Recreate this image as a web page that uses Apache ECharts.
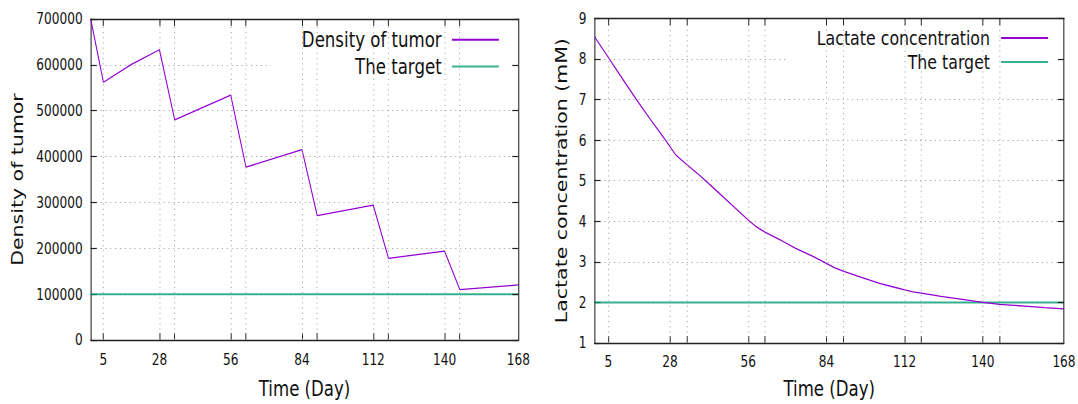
<!DOCTYPE html>
<html><head><meta charset="utf-8">
<script src="https://cdn.jsdelivr.net/npm/echarts@6/dist/echarts.min.js"></script>
<style>
html,body{margin:0;padding:0;background:#fff;overflow:hidden;}
#wrap{width:1078px;height:404px;overflow:hidden;position:relative;background:#fff;}
#chart{width:1331px;height:404px;transform:scaleX(0.80992);transform-origin:0 0;}
</style></head><body>
<div id="wrap"><div id="chart"></div></div>
<script>
// ---- data ----
const tumorDays    = [1, 6, 17, 28, 34, 56, 62, 84, 90, 112, 118, 140, 146, 169];
const tumorDensity = [700000, 562000, 601000, 633000, 480000, 534000, 377000, 415000, 271000, 294000, 178000, 194000, 110000, 120000];
const tumorTarget  = 100000;

const lactateDays = [1, 6, 11, 16, 21, 26, 28, 30, 34, 39, 45, 50, 56, 59, 62, 68, 73, 79, 84, 87, 90, 96, 103, 108, 112, 115, 118, 125, 132, 140, 146, 155, 162, 169];
const lactateConc = [8.55, 8.03, 7.51, 7.0, 6.51, 6.04, 5.84, 5.64, 5.40, 5.11, 4.73, 4.41, 4.03, 3.86, 3.73, 3.52, 3.33, 3.14, 2.96, 2.85, 2.77, 2.63, 2.47, 2.38, 2.31, 2.26, 2.23, 2.15, 2.08, 2.00, 1.95, 1.91, 1.87, 1.84];
const lactateTarget = 2;

const xRange = [1, 169];
const xTickPositions  = [6, 28, 34, 56, 62, 84, 90, 112, 118, 140, 146];
const xLabelPositions = [6, 28, 56, 84, 112, 140, 169];
const xLabelTexts     = ['5', '28', '56', '84', '112', '140', '168'];

const tumorYTicks   = {min: 0, max: 700000, interval: 100000};
const lactateYTicks = {min: 1, max: 9, interval: 1};

// ---- styles ----
const FONT = 'DejaVu Sans';
const TXT = '#111';
const PURPLE = '#9400d3';
const GREEN = 'rgba(0,158,115,0.78)';
const GRIDC = '#a0a0a0';
const BORDER = {show: true, onZero: false, lineStyle: {color: '#222', width: 1.3}};

function labelFor(v) {
  const i = xLabelPositions.indexOf(v);
  return i >= 0 ? xLabelTexts[i] : '';
}

function bottomX(gi, margin, nameGap) {
  return {
    gridIndex: gi, type: 'value', min: xRange[0], max: xRange[1], position: 'bottom', z: 1,
    axisLine: BORDER, splitLine: {show: false},
    axisTick: {show: true, inside: true, length: 7, customValues: xTickPositions, lineStyle: {color: '#222', width: 1.2}},
    axisLabel: {show: true, customValues: xLabelPositions, formatter: labelFor, margin: margin,
      fontSize: 15, fontFamily: FONT, color: TXT, showMinLabel: true, showMaxLabel: true},
    name: 'Time (Day)', nameLocation: 'middle', nameGap: nameGap,
    nameTextStyle: {fontSize: 20.5, fontFamily: FONT, color: TXT}
  };
}
function topX(gi) {
  return {
    gridIndex: gi, type: 'value', min: xRange[0], max: xRange[1], position: 'top', z: 6,
    axisLine: BORDER, splitLine: {show: false},
    axisTick: {show: true, inside: true, length: 7, customValues: xTickPositions, lineStyle: {color: '#222', width: 1.2}},
    axisLabel: {show: false}
  };
}
function leftY(gi, t, name, nameGap) {
  return {
    gridIndex: gi, type: 'value', min: t.min, max: t.max, interval: t.interval, position: 'left', z: 0,
    axisLine: BORDER,
    axisTick: {show: true, inside: true, length: 7.5, lineStyle: {color: '#222', width: 1.2}},
    axisLabel: {margin: 10, fontSize: 15, fontFamily: FONT, color: TXT, formatter: v => String(v)},
    splitLine: {show: true, lineStyle: {color: GRIDC, width: 1, type: [1.5, 4.5]}},
    name: name, nameLocation: 'middle', nameGap: nameGap, nameRotate: 90,
    nameTextStyle: {fontSize: 20.5, fontFamily: FONT, color: TXT}
  };
}
function rightY(gi, t) {
  return {
    gridIndex: gi, type: 'value', min: t.min, max: t.max, interval: t.interval, position: 'right', z: 6,
    axisLine: BORDER, splitLine: {show: false},
    axisTick: {show: true, inside: true, length: 7.5, lineStyle: {color: '#222', width: 1.2}},
    axisLabel: {show: false}
  };
}
function vGrid() {
  return {
    silent: true, symbol: ['none', 'none'], animation: false,
    label: {show: false},
    lineStyle: {color: GRIDC, width: 1, type: [1.2, 4]},
    emphasis: {disabled: true},
    data: xTickPositions.map(v => ({xAxis: v}))
  };
}
function legendBox(names, right, top, padding, gap, textPad, fs) {
  return {
    data: names, orient: 'vertical', align: 'right', right: right, top: top,
    padding: padding, itemGap: gap, itemWidth: 58, itemHeight: 20,
    backgroundColor: '#ffffff', selectedMode: false, z: 4,
    itemStyle: {opacity: 0},
    textStyle: {fontSize: fs, fontFamily: FONT, color: TXT, lineHeight: 20, padding: [0, textPad, 0, 0]}
  };
}

const option = {
  animation: false,
  backgroundColor: '#ffffff',
  grid: [
    {left: 112, top: 19, width: 528, height: 324, show: false, containLabel: false},
    {left: 734, top: 18.3, width: 581, height: 329, show: false, containLabel: false}
  ],
  xAxis: [bottomX(0, 12.5, 38), topX(0), bottomX(1, 11, 35), topX(1)],
  yAxis: [
    leftY(0, tumorYTicks, 'Density of tumor', 80), rightY(0, tumorYTicks),
    leftY(1, lactateYTicks, 'Lactate concentration (mM)', 31), rightY(1, lactateYTicks)
  ],
  legend: [
    legendBox(['Density of tumor', 'The target'], 695, 20, [9.3, 19, 5, 38], 5.7, 7.7, 20.5),
    legendBox(['Lactate concentration', 'The target'], 20, 20, [8, 16, 6.5, 35], 4, 8.6, 19.5)
  ],
  series: [
    {name: 'Density of tumor', type: 'line', xAxisIndex: 0, yAxisIndex: 0, z: 3,
     showSymbol: false, symbol: 'none', lineStyle: {color: PURPLE, width: 1.3}, itemStyle: {color: PURPLE},
     data: tumorDays.map((d, i) => [d, tumorDensity[i]])},
    {name: 'The target', type: 'line', xAxisIndex: 0, yAxisIndex: 0, z: 2,
     showSymbol: false, symbol: 'none', lineStyle: {color: GREEN, width: 2}, itemStyle: {color: GREEN},
     data: [[xRange[0], tumorTarget], [xRange[1], tumorTarget]], markLine: vGrid()},
    {name: 'Lactate concentration', type: 'line', xAxisIndex: 2, yAxisIndex: 2, z: 3,
     showSymbol: false, symbol: 'none', lineStyle: {color: PURPLE, width: 1.3}, itemStyle: {color: PURPLE},
     data: lactateDays.map((d, i) => [d, lactateConc[i]])},
    {name: 'The target', type: 'line', xAxisIndex: 2, yAxisIndex: 2, z: 2,
     showSymbol: false, symbol: 'none', lineStyle: {color: GREEN, width: 2}, itemStyle: {color: GREEN},
     data: [[xRange[0], lactateTarget], [xRange[1], lactateTarget]], markLine: vGrid()}
  ]
};

const chart = echarts.init(document.getElementById('chart'), null, {renderer: 'svg', width: 1331, height: 404});
chart.setOption(option);
</script>
</body></html>
